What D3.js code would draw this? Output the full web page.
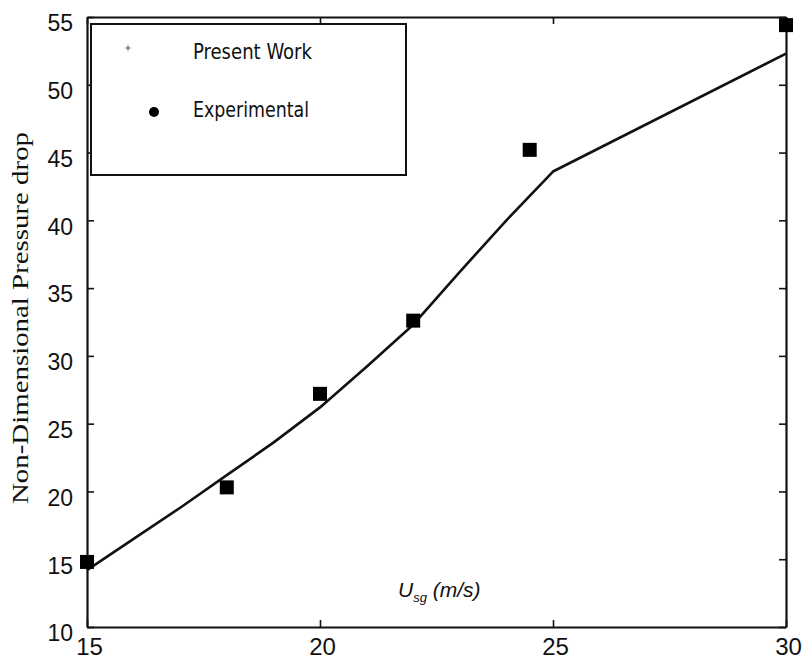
<!DOCTYPE html>
<html>
<head>
<meta charset="utf-8">
<script src="https://cdn.jsdelivr.net/npm/d3@7"></script>
<style>
  html, body { margin: 0; padding: 0; background: #fff; }
  svg { display: block; }
</style>
</head>
<body>
<div id="chart"></div>
<script>
// ---- data ----
const modelX = [15, 16, 17, 18, 19, 20, 21, 22, 23, 24, 25, 30];
const modelY = [14.2, 16.5, 18.8, 21.2, 23.6, 26.2, 29.2, 32.3, 36.2, 40.0, 43.6, 52.3];
const expX = [15, 18, 20, 22, 24.5, 30];
const expY = [14.8, 20.3, 27.2, 32.6, 45.2, 54.4];
const xTicks = [15, 20, 25, 30];
const yTicks = [10, 15, 20, 25, 30, 35, 40, 45, 50, 55];
const seriesNames = ["Present Work", "Experimental"];
const yTitle = "Non-Dimensional Pressure drop";

// ---- layout ----
const W = 804, H = 660;
const pLeft = 87, pRight = 786, pTop = 17, pBottom = 627;

const svg = d3.select("#chart").append("svg").attr("width", W).attr("height", H);
svg.append("rect").attr("width", W).attr("height", H).attr("fill", "#fff");

const x = d3.scaleLinear().domain([15, 30]).range([pLeft, pRight]);
const y = d3.scaleLinear().domain([10, 55]).range([pBottom, pTop]);

const tickFont = "'Liberation Sans', Arial, sans-serif";

// axes with inward ticks
const axB = svg.append("g").attr("transform", `translate(0,${pBottom})`)
  .call(d3.axisBottom(x).tickValues(xTicks).tickSizeInner(-7).tickSizeOuter(0).tickPadding(16));
const axT = svg.append("g").attr("transform", `translate(0,${pTop})`)
  .call(d3.axisTop(x).tickValues(xTicks).tickSizeInner(-7).tickSizeOuter(0).tickFormat(""));
const axL = svg.append("g").attr("transform", `translate(${pLeft},0)`)
  .call(d3.axisLeft(y).tickValues(yTicks).tickSizeInner(-7).tickSizeOuter(0).tickPadding(14));
const axR = svg.append("g").attr("transform", `translate(${pRight},0)`)
  .call(d3.axisRight(y).tickValues(yTicks).tickSizeInner(-7).tickSizeOuter(0).tickFormat(""));

[axB, axT, axL, axR].forEach(g => {
  g.select(".domain").attr("stroke", "#111").attr("stroke-width", 2.2);
  g.selectAll(".tick line").attr("stroke", "#111").attr("stroke-width", 1.6);
});
axL.selectAll(".tick text")
  .attr("font-family", tickFont).attr("font-size", 23).attr("fill", "#111")
  .attr("dy", "0.82em").attr("y", -5);
axB.selectAll(".tick text")
  .attr("font-family", tickFont).attr("font-size", 24).attr("fill", "#111")
  .attr("dy", "0.5em").attr("dx", 2);

// y title
svg.append("text")
  .attr("transform", "translate(28,318) rotate(-90)")
  .attr("text-anchor", "middle")
  .attr("font-family", "'Liberation Serif', 'Times New Roman', serif")
  .attr("font-size", 23)
  .attr("textLength", 372)
  .attr("lengthAdjust", "spacingAndGlyphs")
  .attr("fill", "#111")
  .text(yTitle);

// x title
const xt = svg.append("text")
  .attr("x", 398).attr("y", 597)
  .attr("font-family", tickFont).attr("font-style", "italic")
  .attr("font-size", 21).attr("fill", "#111");
xt.append("tspan").text("U");
xt.append("tspan").attr("font-size", 13).attr("dy", 5).text("sg");
xt.append("tspan").attr("dy", -5).text(" (m/s)");

// model line
const line = d3.line().x((d, i) => x(modelX[i])).y(d => y(d)).curve(d3.curveLinear);
svg.append("path")
  .datum(modelY)
  .attr("d", line)
  .attr("fill", "none")
  .attr("stroke", "#111")
  .attr("stroke-width", 2.6)
  .attr("stroke-linejoin", "round");

// experimental squares
const sq = 14;
svg.append("g").selectAll("rect")
  .data(expY)
  .join("rect")
  .attr("x", (d, i) => x(expX[i]) - sq / 2)
  .attr("y", d => y(d) - sq / 2)
  .attr("width", sq).attr("height", sq)
  .attr("fill", "#000");

// legend
const lg = svg.append("g");
lg.append("rect")
  .attr("x", 91).attr("y", 24).attr("width", 315).attr("height", 151)
  .attr("fill", "#fff").attr("stroke", "#111").attr("stroke-width", 2);
lg.append("path")
  .attr("d", d3.symbol(d3.symbolCross, 14)())
  .attr("transform", "translate(128,48)")
  .attr("fill", "#888");
lg.append("circle").attr("cx", 154).attr("cy", 112).attr("r", 5).attr("fill", "#000");
const legFont = "'Liberation Sans Narrow', 'DejaVu Sans Condensed', 'Liberation Sans', sans-serif";
lg.append("text").attr("x", 193).attr("y", 59)
  .attr("font-family", legFont).attr("font-size", 21)
  .attr("textLength", 119).attr("lengthAdjust", "spacingAndGlyphs")
  .attr("fill", "#111").text(seriesNames[0]);
lg.append("text").attr("x", 193).attr("y", 117)
  .attr("font-family", legFont).attr("font-size", 21)
  .attr("textLength", 116).attr("lengthAdjust", "spacingAndGlyphs")
  .attr("fill", "#111").text(seriesNames[1]);
</script>
</body>
</html>
